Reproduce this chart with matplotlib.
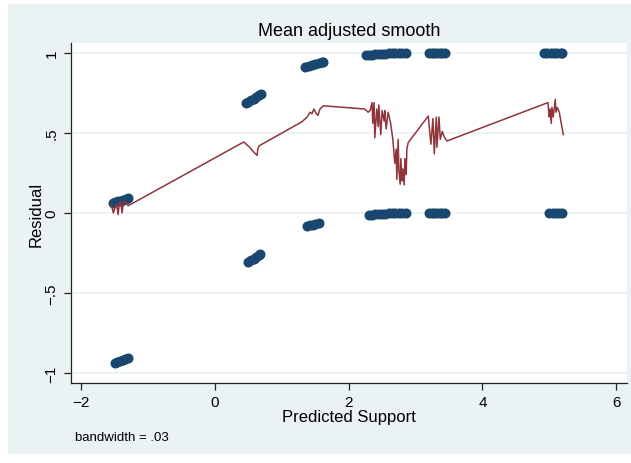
import matplotlib
matplotlib.use('Agg')
import matplotlib.pyplot as plt
from matplotlib.patches import Rectangle

# Stata-like s2color palette
BG = '#eaf2f3'
NAVY = '#1a476f'
CRANBERRY = '#90353b'
FONT = ['Liberation Sans', 'DejaVu Sans']

# observations with outcome = 1 (residual near the top)
support_hi = [-1.53, -1.49, -1.45, -1.41, -1.37, -1.33, -1.30,
              0.46, 0.50, 0.54, 0.58, 0.62, 0.66, 0.69,
              1.35, 1.40, 1.45, 1.50, 1.55, 1.60, 1.62,
              2.26, 2.30, 2.35, 2.40, 2.45, 2.50, 2.55, 2.60, 2.65, 2.70, 2.75, 2.80, 2.86,
              3.20, 3.24, 3.28, 3.32, 3.36, 3.40, 3.44,
              4.92, 4.97, 5.02, 5.07, 5.12, 5.17, 5.19]
resid_hi = [0.060, 0.066, 0.072, 0.078, 0.084, 0.090, 0.095,
            0.685, 0.695, 0.705, 0.715, 0.725, 0.735, 0.745,
            0.912, 0.918, 0.924, 0.930, 0.936, 0.942, 0.945,
            0.988, 0.989, 0.990, 0.991, 0.993, 0.995, 0.996, 0.997, 0.998, 0.998, 0.998, 0.999, 0.999,
            1.0, 1.0, 1.0, 1.0, 1.0, 1.0, 1.0,
            1.0, 1.0, 1.0, 1.0, 1.0, 1.0, 1.0]

# observations with outcome = 0
support_lo = [-1.50, -1.46, -1.42, -1.38, -1.34, -1.30,
              0.50, 0.54, 0.58, 0.62, 0.66, 0.68,
              1.38, 1.42, 1.46, 1.50, 1.55,
              2.31, 2.35, 2.40, 2.45, 2.50, 2.55, 2.60, 2.65, 2.70, 2.75, 2.80, 2.85,
              3.20, 3.24, 3.28, 3.32, 3.36, 3.40, 3.44,
              5.00, 5.05, 5.10, 5.15, 5.19]
resid_lo = [-0.935, -0.929, -0.923, -0.917, -0.911, -0.905,
            -0.305, -0.295, -0.285, -0.275, -0.265, -0.258,
            -0.084, -0.078, -0.073, -0.068, -0.063,
            -0.012, -0.010, -0.009, -0.007, -0.005, -0.004, -0.003, -0.002, -0.002, -0.002, -0.001, -0.001,
            0.0, 0.0, 0.0, 0.0, 0.0, 0.0, 0.0,
            0.0, 0.0, 0.0, 0.0, 0.0]

# running-mean smooth (bandwidth .03)
smooth_x = [-1.55, -1.52, -1.49, -1.47, -1.45, -1.43, -1.41, -1.39, -1.37, -1.33, -1.30,
            0.43, 0.52, 0.58, 0.63, 0.64, 0.66,
            1.30, 1.38, 1.42, 1.45, 1.48, 1.51, 1.54, 1.57, 1.62,
            2.24, 2.29, 2.32, 2.35, 2.36, 2.38, 2.39, 2.42, 2.44, 2.45, 2.48, 2.50, 2.53,
            2.54, 2.56, 2.59, 2.63, 2.66, 2.69, 2.71, 2.72, 2.74, 2.75, 2.77, 2.78, 2.80,
            2.81, 2.83, 2.84, 2.86, 2.87, 2.89,
            3.19, 3.23, 3.26, 3.28, 3.31, 3.32, 3.35, 3.37, 3.40, 3.43, 3.47,
            4.98, 5.00, 5.01, 5.03, 5.04, 5.06, 5.09, 5.10, 5.12, 5.15, 5.21]
smooth_y = [0.050, 0.000, 0.040, 0.050, -0.010, 0.060, 0.070, 0.000, 0.070, 0.070, 0.045,
            0.444, 0.410, 0.380, 0.360, 0.400, 0.420,
            0.570, 0.600, 0.630, 0.620, 0.650, 0.625, 0.610, 0.650, 0.670,
            0.650, 0.630, 0.640, 0.690, 0.560, 0.690, 0.470, 0.650, 0.540, 0.675, 0.490, 0.640, 0.575,
            0.640, 0.525, 0.630, 0.555, 0.460, 0.310, 0.400, 0.210, 0.460, 0.275, 0.180, 0.340, 0.200,
            0.275, 0.175, 0.340, 0.240, 0.400, 0.440,
            0.606, 0.430, 0.590, 0.370, 0.600, 0.410, 0.600, 0.460, 0.510, 0.475, 0.450,
            0.690, 0.600, 0.650, 0.560, 0.660, 0.600, 0.710, 0.630, 0.660, 0.630, 0.490]

yticks = [-1, -0.5, 0, 0.5, 1]
ytick_labels = ['\u22121', '\u2212.5', '0', '.5', '1']
xticks = [-2, 0, 2, 4, 6]
xtick_labels = ['\u22122', '0', '2', '4', '6']

W, H = 631, 464


def fx(px):
    return px / W


def fy(py):
    return 1 - py / H


fig = plt.figure(figsize=(W / 100, H / 100), dpi=100, facecolor='white')
fig.patches.append(Rectangle((fx(8), fy(455)), fx(W - 8), fy(5) - fy(455),
                             transform=fig.transFigure, facecolor=BG,
                             edgecolor='none', zorder=-10))

ax = fig.add_axes([fx(71), fy(384), fx(627) - fx(71), fy(44) - fy(384)])
ax.set_zorder(1)
ax.set_facecolor('white')

ax.scatter(support_hi, resid_hi, s=52, color=NAVY, linewidths=0, zorder=3)
ax.scatter(support_lo, resid_lo, s=52, color=NAVY, linewidths=0, zorder=3)
ax.plot(smooth_x, smooth_y, color=CRANBERRY, lw=1.1, zorder=4)

ax.set_xlim(-2.154, 6.163)
ax.set_ylim(-1.0625, 1.0625)

for yv in yticks:
    ax.axhline(yv, color=BG, lw=1.2, zorder=1)

for side in ['top', 'right']:
    ax.spines[side].set_visible(False)
for side in ['left', 'bottom']:
    ax.spines[side].set_color('#222222')
    ax.spines[side].set_linewidth(0.9)

ax.set_yticks(yticks)
ax.set_yticklabels(ytick_labels, rotation=90, va='center', family=FONT, fontsize=11)
ax.set_xticks(xticks)
ax.set_xticklabels(xtick_labels, family=FONT, fontsize=11)
ax.tick_params(axis='y', direction='out', length=5, width=0.9, color='#222222', pad=4)
ax.tick_params(axis='x', direction='out', length=5, width=0.9, color='#222222', pad=4)

fig.text(fx(349), fy(32), 'Mean adjusted smooth', ha='center', va='center',
         family=FONT, fontsize=13)
fig.text(fx(349), fy(418), 'Predicted Support', ha='center', va='center',
         family=FONT, fontsize=12)
fig.text(fx(36), fy(214), 'Residual', ha='center', va='center', rotation=90,
         family=FONT, fontsize=12)
fig.text(fx(75), fy(438), 'bandwidth = .03', ha='left', va='center',
         family=FONT, fontsize=9.5)

fig.savefig('out.png', dpi=100, facecolor=fig.get_facecolor())
